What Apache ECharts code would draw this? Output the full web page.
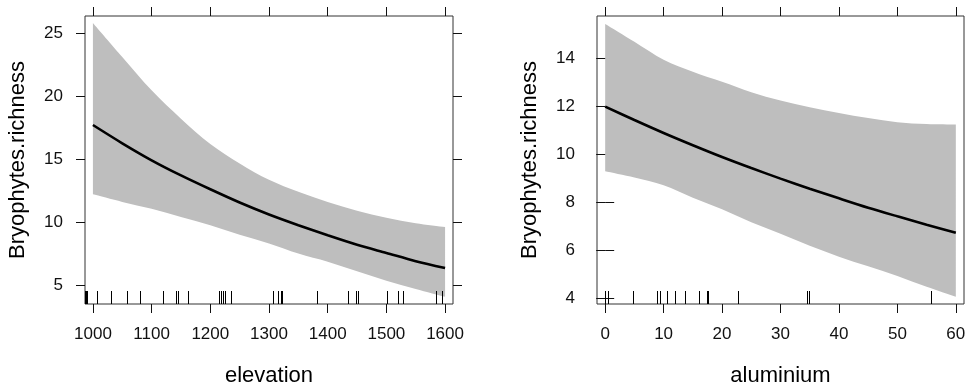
<!DOCTYPE html>
<html>
<head>
<meta charset="utf-8">
<script src="https://cdn.jsdelivr.net/npm/echarts@6/dist/echarts.min.js"></script>
<style>body{margin:0;background:#fff;}</style>
</head>
<body>
<div id="main" style="width:972px;height:392px;"></div>
<script>
// effect of elevation
var elevX     = [1000, 1050, 1100, 1150, 1200, 1250, 1300, 1350, 1400, 1450, 1500, 1550, 1600];
var elevFit   = [17.7, 16.25, 14.9, 13.7, 12.6, 11.55, 10.6, 9.75, 8.95, 8.2, 7.55, 6.9, 6.35];
var elevUpper = [25.8, 23.1, 20.45, 18.2, 16.2, 14.65, 13.35, 12.4, 11.6, 10.9, 10.35, 9.9, 9.6];
var elevLower = [12.2, 11.6, 11.05, 10.4, 9.75, 9.0, 8.3, 7.5, 6.85, 6.1, 5.35, 4.7, 4.08];
var elevRug   = [987, 988.5, 990.5, 1007, 1030, 1058, 1080, 1119, 1142, 1145, 1162,
                 1214, 1218, 1222, 1225, 1235, 1307, 1315, 1320, 1322, 1382, 1435,
                 1448, 1452, 1501, 1519, 1529, 1584, 1595];
var elevTicks = [1000, 1100, 1200, 1300, 1400, 1500, 1600];
var richTicksL = [5, 10, 15, 20, 25];

// effect of aluminium
var alumX     = [0, 5, 10, 15, 20, 25, 30, 35, 40, 45, 50, 55, 60];
var alumFit   = [12.0, 11.44, 10.9, 10.39, 9.9, 9.44, 9.0, 8.58, 8.18, 7.79, 7.43, 7.08, 6.75];
var alumUpper = [15.44, 14.7, 13.95, 13.45, 13.03, 12.6, 12.25, 11.97, 11.73, 11.52, 11.35, 11.27, 11.25];
var alumLower = [9.31, 9.05, 8.72, 8.2, 7.72, 7.18, 6.7, 6.2, 5.75, 5.35, 4.95, 4.5, 4.08];
var alumRug   = [0, 0.4, 4.75, 8.9, 9.4, 10.5, 11.9, 13.6, 16.0, 17.4, 17.6, 22.7, 34.6, 34.9, 55.7];
var alumTicks = [0, 10, 20, 30, 40, 50, 60];
var richTicksR = [4, 6, 8, 10, 12, 14];

var yTitle = 'Bryophytes.richness';
var font = 'Liberation Sans, Arial, sans-serif';

var myChart = echarts.init(document.getElementById('main'));

// smooth curve through pixel points (catmull-rom as cubic beziers)
function curveTo(pts, start) {
    var d = start ? 'M' + pts[0][0] + ' ' + pts[0][1] : 'L' + pts[0][0] + ' ' + pts[0][1];
    for (var i = 0; i < pts.length - 1; i++) {
        var p0 = pts[Math.max(i - 1, 0)], p1 = pts[i], p2 = pts[i + 1], p3 = pts[Math.min(i + 2, pts.length - 1)];
        var c1x = p1[0] + (p2[0] - p0[0]) / 6, c1y = p1[1] + (p2[1] - p0[1]) / 6;
        var c2x = p2[0] - (p3[0] - p1[0]) / 6, c2y = p2[1] - (p3[1] - p1[1]) / 6;
        d += ' C' + c1x + ' ' + c1y + ' ' + c2x + ' ' + c2y + ' ' + p2[0] + ' ' + p2[1];
    }
    return d;
}

function bandItem(xs, lo, hi) {
    return function (params, api) {
        if (params.dataIndex !== 0) return;
        var top = [], bot = [];
        for (var i = 0; i < xs.length; i++) top.push(api.coord([xs[i], hi[i]]));
        for (var j = xs.length - 1; j >= 0; j--) bot.push(api.coord([xs[j], lo[j]]));
        return {
            type: 'path',
            shape: { pathData: curveTo(top, true) + ' ' + curveTo(bot, false) + ' Z' },
            style: { fill: '#bebebe', stroke: null }
        };
    };
}

function rugItem(yMin) {
    return function (params, api) {
        var p = api.coord([api.value(0), yMin]);
        var x = Math.round(p[0]) + 0.5;
        return {
            type: 'line',
            shape: { x1: x, y1: p[1], x2: x, y2: p[1] - 13 },
            style: { stroke: '#000', lineWidth: 1 }
        };
    };
}

function pairs(xs, ys) {
    var res = [];
    for (var i = 0; i < xs.length; i++) res.push([xs[i], ys[i]]);
    return res;
}

function tickAxis(gridIndex, pos, min, max, ticks, showLabels, name) {
    var horiz = (pos === 'bottom' || pos === 'top');
    return {
        type: 'value',
        gridIndex: gridIndex,
        position: pos,
        min: min,
        max: max,
        name: name || '',
        nameLocation: 'middle',
        nameGap: horiz ? 61 : 56,
        nameTextStyle: { fontFamily: font, fontSize: 22, color: '#000' },
        axisLine: { show: false },
        splitLine: { show: false },
        axisTick: {
            show: true, inside: false, length: 9, customValues: ticks,
            lineStyle: { color: '#111', width: 1 }
        },
        axisLabel: {
            show: showLabels, customValues: ticks,
            margin: 22,
            formatter: function (v) { return String(v); },
            fontFamily: font, fontSize: 17, color: '#111'
        }
    };
}

function panelSeries(xi, xs, fit, lo, hi, rug, yMin) {
    return [
        {
            type: 'custom', xAxisIndex: xi, yAxisIndex: xi, clip: true,
            renderItem: bandItem(xs, lo, hi),
            data: pairs(xs, hi), z: 1
        },
        {
            type: 'line', xAxisIndex: xi, yAxisIndex: xi, data: pairs(xs, fit),
            showSymbol: false, smooth: 0.3, lineStyle: { color: '#000', width: 2.6 }, z: 3
        },
        {
            type: 'custom', xAxisIndex: xi, yAxisIndex: xi, clip: true,
            renderItem: rugItem(yMin),
            data: rug.map(function (v) { return [v, yMin]; }), z: 4
        }
    ];
}

var option = {
    animation: false,
    grid: [
        { left: 85, top: 16, width: 368, height: 293, show: true, borderColor: '#333', borderWidth: 1 },
        { left: 597, top: 16, width: 367, height: 293, show: true, borderColor: '#333', borderWidth: 1 }
    ],
    xAxis: [
        tickAxis(0, 'bottom', 986.5, 1613.5, elevTicks, true, 'elevation'),
        tickAxis(0, 'top', 986.5, 1613.5, elevTicks, false),
        tickAxis(1, 'bottom', -1.4, 61.4, alumTicks, true, 'aluminium'),
        tickAxis(1, 'top', -1.4, 61.4, alumTicks, false)
    ],
    yAxis: [
        tickAxis(0, 'left', 3.5, 26.35, richTicksL, true, yTitle),
        tickAxis(0, 'right', 3.5, 26.35, richTicksL, false),
        tickAxis(1, 'left', 3.78, 15.77, richTicksR, true, yTitle),
        tickAxis(1, 'right', 3.78, 15.77, richTicksR, false)
    ],
    series: [].concat(
        panelSeries(0, elevX, elevFit, elevLower, elevUpper, elevRug, 3.5),
        panelSeries(2, alumX, alumFit, alumLower, alumUpper, alumRug, 3.78)
    )
};

myChart.setOption(option);
</script>
</body>
</html>
